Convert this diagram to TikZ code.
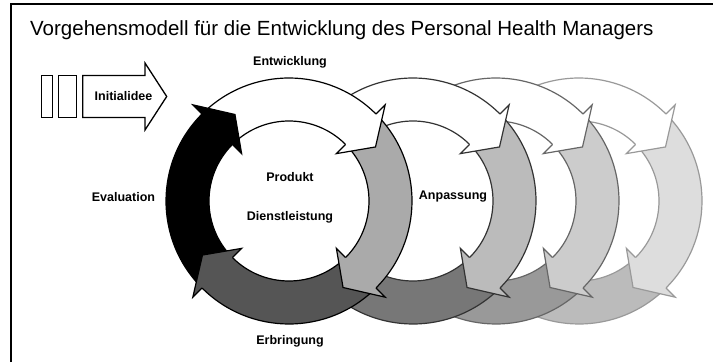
\documentclass[tikz,border=0pt]{standalone}
\usepackage{fontspec}
\setmainfont{Liberation Sans}
\definecolor{gA}{gray}{0.667}\definecolor{dA}{gray}{0.333}\definecolor{kA}{gray}{0}\definecolor{sA}{gray}{0}
\definecolor{gB}{gray}{0.733}\definecolor{dB}{gray}{0.467}\definecolor{kB}{gray}{0.2}\definecolor{sB}{gray}{0.2}
\definecolor{gC}{gray}{0.8}\definecolor{dC}{gray}{0.6}\definecolor{kC}{gray}{0.4}\definecolor{sC}{gray}{0.4}
\definecolor{gD}{gray}{0.867}\definecolor{dD}{gray}{0.733}\definecolor{kD}{gray}{0.6}\definecolor{sD}{gray}{0.6}
\newcommand\myring[6]{%
 \begin{scope}[shift={(#1,161)}]
  \fill[white] (0,0) circle[radius=80];
  \foreach \T/\col in {135/#2, 45/#3, -45/#4, -135/#5} {
    \pgfmathsetmacro\Ha{\T-93}
    \pgfmathsetmacro\Ta{\T-3}
    \filldraw[fill=\col, draw=#6, ringline] (\Ta:123) arc[start angle=\Ta, end angle=\Ha, radius=123] -- (\Ha:80) arc[start angle=\Ha, end angle=\Ta, radius=80] -- cycle;
  }
  \foreach \T/\col in {135/#2, 45/#3, -45/#4, -135/#5} {
    \pgfmathsetmacro\H{\T-90}
    \pgfmathsetmacro\P{\T-103}
    \fill[\col] (\H:136) -- (\P:102) -- (\H:67) -- cycle;
    \draw[#6, ringline] (\H:123) -- (\H:136) -- (\P:102) -- (\H:67) -- (\H:80);
  }
 \end{scope}}
\begin{document}
\begin{tikzpicture}[x=1pt,y=1pt, line join=miter,
  ringline/.style={line width=1.2pt},
  lbl/.style={inner sep=0pt, font=\fontsize{12.5}{14}\selectfont\bfseries},
  boxline/.style={draw=black, fill=white, line width=1.3pt}]
\useasboundingbox (0,0) rectangle (713,362);
\fill[white] (0,0) rectangle (713,362);
\draw[line width=1.5pt] (11,0) -- (11,358) -- (713,358);
\myring{579}{white}{gD}{dD}{kD}{sD}
\myring{496}{white}{gC}{dC}{kC}{sC}
\myring{413}{white}{gB}{dB}{kB}{sB}
\myring{289}{white}{gA}{dA}{kA}{sA}
\node (title) [anchor=west, inner sep=0pt, font=\fontsize{20.5}{23}\selectfont] at (30,332) {Vorgehensmodell für die Entwicklung des Personal Health Managers};
\draw[boxline] (41.7,244.5) rectangle (52.7,286.5);
\draw[boxline] (58.3,244.5) rectangle (76.7,286.5);
\draw[boxline] (82.7,244.5) -- (82.7,286.5) -- (145,286.5) -- (145,299) -- (166.7,265.5) -- (145,232) -- (145,244.5) -- cycle;
\node (ini) [lbl] at (123.5,265.5) {Initialidee};
\node (entw) [lbl] at (290,300) {Entwicklung};
\node (eval) [lbl] at (123.5,165) {Evaluation};
\node (prod) [lbl] at (290,185) {Produkt};
\node (dienst) [lbl] at (290,145) {Dienstleistung};
\node (erbr) [lbl] at (290,21) {Erbringung};
\node (anp) [lbl] at (453,165) {Anpassung};
\end{tikzpicture}
\end{document}
